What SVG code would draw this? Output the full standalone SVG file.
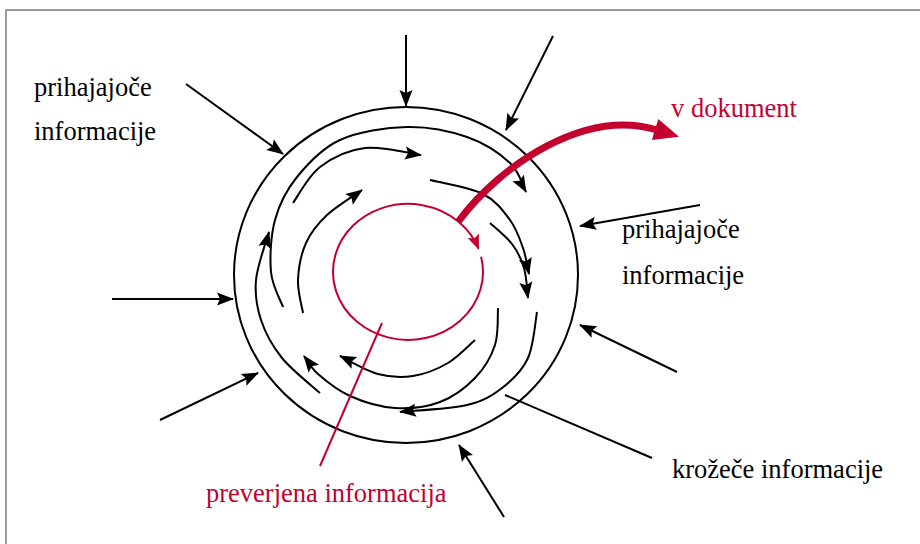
<svg xmlns="http://www.w3.org/2000/svg" width="920" height="544" viewBox="0 0 920 544">
<style>
.bk{fill:none;stroke:#000;stroke-width:2}
.ar{fill:none;stroke:#000;stroke-width:2;marker-end:url(#ah)}
.rd{fill:none;stroke:#c4002f}
.rt{fill:#c4002f}
</style>
<defs>
<marker id="ah" markerUnits="userSpaceOnUse" markerWidth="18" markerHeight="14" refX="16" refY="6.5" orient="auto" overflow="visible">
<path d="M0,0 L17,6.5 L0,13 L3,6.5 z" fill="#000"/>
</marker>
<marker id="rah" markerUnits="userSpaceOnUse" markerWidth="16" markerHeight="14" refX="14" refY="6" orient="auto" overflow="visible">
<path d="M0,0 L15,6 L0,12 L3,6 z" fill="#c4002f"/>
</marker>
<marker id="bigah" markerUnits="userSpaceOnUse" markerWidth="28" markerHeight="24" refX="2" refY="11" orient="auto" overflow="visible">
<path d="M0,0 L25,11 L0,22 z" fill="#c4002f"/>
</marker>
</defs>
<rect width="920" height="544" fill="#fff"/>
<path d="M6,544 V10 H920" fill="none" stroke="#7a7a7a" stroke-width="1.5"/>

<g id="outer-circle"><ellipse cx="406" cy="275" rx="172" ry="168" class="bk"/></g>

<g id="verified-circle"><path class="rd" stroke-width="2" marker-end="url(#rah)" d="M481.1,256.7 A75,68 0 1,1 478.5,248.7"/></g>

<g font-family="'Liberation Serif', 'Times New Roman', 'DejaVu Serif', serif" font-size="26.5">
<g id="label-incoming-left">
<text x="34" y="96">prihajajoče</text>
<text x="34" y="140">informacije</text>
</g>
<g id="label-incoming-right">
<text x="622" y="238">prihajajoče</text>
<text x="622" y="284">informacije</text>
</g>
<g id="label-to-document"><text x="671" y="117" class="rt">v dokument</text></g>
<g id="label-circulating"><text x="672" y="478">krožeče informacije</text></g>
<g id="label-verified"><text x="206" y="502" class="rt">preverjena informacija</text></g>
</g>

<g id="connectors">
<path class="ar" d="M406,35 L406,106"/>
<path class="ar" d="M553,36 L506,130"/>
<path class="ar" d="M186,84 L283,154"/>
<path class="ar" d="M112,299 L233,299"/>
<path class="ar" d="M160,420 L258,373"/>
<path class="ar" d="M504,517 L459,445"/>
<path class="ar" d="M677,372 L580,325"/>
<path class="ar" d="M700,205 L580,226"/>
<path class="bk" d="M505,395 L652,458"/>
<path class="ar" d="M283,307 C281,301.2 272.3,286.5 271,272 C269.7,257.5 270.7,235.8 275,220 C279.3,204.2 286.2,190.3 297,177 C307.8,163.7 321.7,148.3 340,140 C358.3,131.7 385.8,127.5 407,127 C428.2,126.5 449.8,131 467,137 C484.2,143 500.2,153.8 510,163 C519.8,172.2 523.3,187.2 526,192"/>
<path class="ar" d="M293,203 C297.5,197 308,176.2 320,167 C332,157.8 348.2,150 365,148 C381.8,146 411.7,153.8 421,155"/>
<path class="ar" d="M303,313 C302.2,307.5 297.5,291.7 298,280 C298.5,268.3 301.2,253.8 306,243 C310.8,232.2 317.7,223.8 327,215 C336.3,206.2 356.2,194.2 362,190"/>
<path class="ar" d="M320,393 C313.7,387.2 291.8,370.2 282,358 C272.2,345.8 265.3,333 261,320 C256.7,307 254.7,294.7 256,280 C257.3,265.3 266.8,240 269,232"/>
<path class="ar" d="M430,180 C438.8,182.3 469.7,187.3 483,194 C496.3,200.7 503.3,211 510,220 C516.7,229 519.8,239 523,248 C526.2,257 528,269.7 529,274"/>
<path class="ar" d="M490,223 C493.7,226.5 506.3,236.5 512,244 C517.7,251.5 521.3,259 524,268 C526.7,277 527.3,293 528,298"/>
<path class="ar" d="M537,312 C535.5,319.7 533.8,345.3 528,358 C522.2,370.7 512.2,380.2 502,388 C491.8,395.8 484,401 467,405 C450,409 411.2,410.8 400,412"/>
<path class="ar" d="M498,308 C497.5,314.2 498.8,333.3 495,345 C491.2,356.7 484.2,368.5 475,378 C465.8,387.5 453.3,397 440,402 C426.7,407 410,409 395,408 C380,407 362.8,401.7 350,396 C337.2,390.3 325.7,380.7 318,374 C310.3,367.3 306.3,359 304,356"/>
<path class="ar" d="M475,340 C470.5,343.8 458.3,357 448,363 C437.7,369 424.7,374.2 413,376 C401.3,377.8 390.2,377.3 378,374 C365.8,370.7 346.3,359 340,356"/>
<path class="rd" stroke-width="2" d="M382,323 L320,466"/>
<path class="rd" stroke-width="7" marker-end="url(#bigah)" d="M458,222 C500,165 585,108 657,130"/>
</g>
</svg>
